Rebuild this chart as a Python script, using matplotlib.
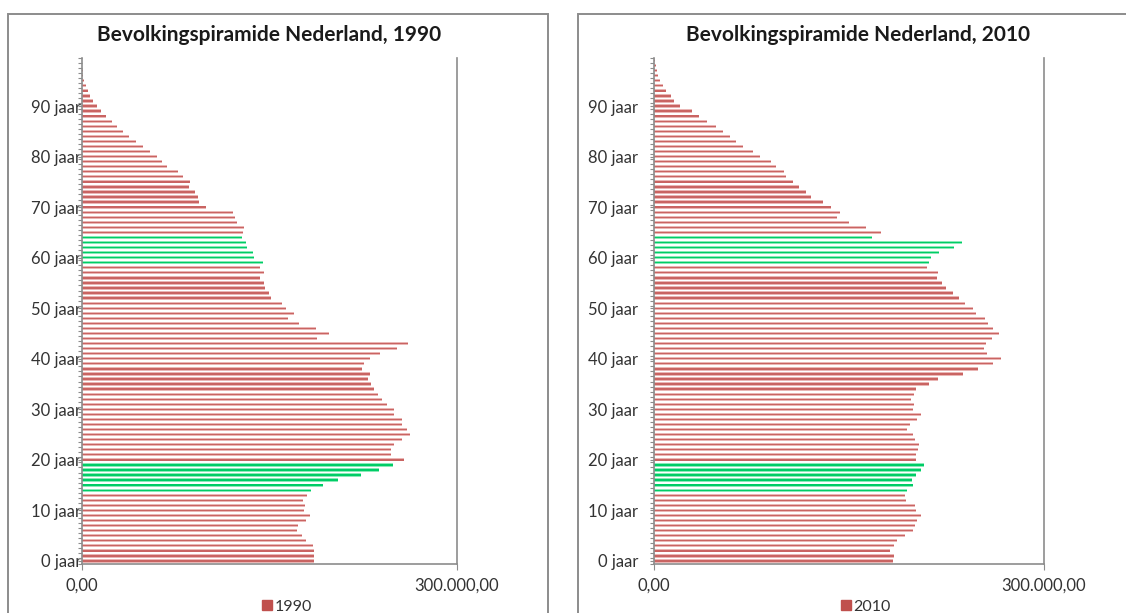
import numpy as np
import matplotlib
matplotlib.use("Agg")
import matplotlib.pyplot as plt
from matplotlib.patches import Rectangle, Patch
from matplotlib.ticker import FixedLocator

plt.rcParams['font.family'] = ['Lato', 'DejaVu Sans']

# leeftijden 0 t/m 99 jaar
leeftijd = np.arange(100)

bev_1990 = [186300, 186300, 186300, 184900, 179300, 176100, 172100, 173500, 179300, 182800,
            177700, 178800, 176900, 180700, 183300, 193500, 204900, 223300, 238000, 248900,
            258300, 247300, 247300, 250300, 256100, 262800, 260400, 256700, 256700, 250300,
            250300, 244000, 240700, 237500, 233700, 231900, 228900, 230500, 224100, 226000,
            230500, 239100, 252400, 260900, 188400, 198000, 187600, 173700, 165500, 170000,
            163600, 160700, 151600, 150300, 147100, 145700, 143100, 146300, 142800, 144900,
            138300, 137500, 132100, 131300, 128700, 129000, 130000, 124100, 122800, 121500,
            99300, 94000, 93500, 91100, 86000, 86800, 81500, 76900, 68100, 64100,
            60400, 54500, 49500, 43900, 38300, 33500, 28100, 24100, 19600, 15300,
            12100, 9500, 7100, 4900, 3300, 2000, 1500, 1000, 600, 350]

bev_2010 = [184100, 184600, 181500, 184600, 186700, 193300, 199500, 200500, 202100, 205600,
            201300, 200500, 194100, 192800, 194900, 199200, 198500, 201300, 205100, 207700,
            201300, 201300, 203100, 203900, 200500, 199200, 194900, 196700, 202600, 205100,
            199200, 200000, 197400, 199800, 201800, 211500, 218500, 237700, 249200, 260800,
            267200, 256400, 253900, 255700, 260300, 265400, 260800, 256900, 254400, 248000,
            245400, 239000, 234600, 230000, 224900, 221800, 218000, 218500, 210300, 211500,
            212800, 219000, 230800, 236700, 168000, 174400, 163400, 150000, 141100, 142800,
            135900, 130000, 120500, 116700, 111600, 107200, 101300, 100000, 93600, 89800,
            81500, 76200, 68700, 63300, 58200, 53100, 48000, 40800, 34600, 29500,
            20300, 15400, 12800, 9500, 6900, 4900, 3100, 2300, 1500, 1100]

# gemarkeerde leeftijdsgroepen (groen)
groen_1990 = list(range(14, 20)) + list(range(59, 65))
groen_2010 = list(range(14, 20)) + list(range(59, 65))

jaren = ["1990", "2010"]
titels = ["Bevolkingspiramide Nederland, 1990", "Bevolkingspiramide Nederland, 2010"]
tick_leeftijd = list(range(0, 100, 10))
tick_labels = [f"{a} jaar" for a in tick_leeftijd]
x_ticks = [0, 300000]
x_labels = ["0,00", "300.000,00"]

W, H = 1126, 613
fig = plt.figure(figsize=(W / 100, H / 100), dpi=100)

# kaderranden zoals in Excel
for x0, x1 in [(8, 548), (578, 1140)]:
    fig.patches.append(Rectangle((x0 / W, -0.2), (x1 - x0) / W, 1.2 - 14 / H,
                                 transform=fig.transFigure, fill=False,
                                 edgecolor='#8c8c8c', linewidth=1.4))

assen = [(81.5, 456.5, -2.7, 269, 287), (654, 1044, 8.5, 858, 866)]
data = [bev_1990, bev_2010]
groen = [groen_1990, groen_2010]

for i, (xl, xr, pad, tx, lx) in enumerate(assen):
    ax = fig.add_axes([xl / W, (H - 563.5) / H, (xr - xl) / W, 505.5 / H])
    waarden = np.array(data[i])
    licht = ['#8aeab8' if a in groen[i] else '#eab6b5' for a in leeftijd]
    donker = ['#00cc66' if a in groen[i] else '#c96462' for a in leeftijd]
    ax.barh(leeftijd, waarden, height=0.64, color=licht, linewidth=0)
    ax.barh(leeftijd, waarden, height=0.26, color=donker, linewidth=0)

    ax.set_xlim(0, 300000)
    ax.set_ylim(-0.5, 99.5)
    ax.set_xticks(x_ticks)
    ax.set_xticklabels(x_labels, fontsize=12, color='#333333')
    ax.set_yticks(tick_leeftijd)
    ax.set_yticklabels(tick_labels, fontsize=12, color='#333333')
    ax.yaxis.set_minor_locator(FixedLocator(np.arange(-0.5, 100, 1)))
    ax.tick_params(axis='y', which='both', length=3, width=0.8, color='#8c8c8c', pad=pad)
    ax.tick_params(axis='x', length=4, width=0.8, color='#8c8c8c', pad=6)
    for s in ['left', 'bottom', 'right']:
        ax.spines[s].set_color('#8c8c8c')
        ax.spines[s].set_linewidth(1.2)
    ax.spines['top'].set_visible(False)

    fig.text(tx / W, 1 - 35 / H, titels[i], ha='center', va='center',
             fontsize=15, fontweight='bold', color='#1a1a1a')
    ax.legend(handles=[Patch(color='#c0504d', label=jaren[i])], loc='center',
              bbox_to_anchor=(lx / W, 1 - 607 / H), bbox_transform=fig.transFigure,
              frameon=False, fontsize=11.5, handlelength=0.6, handleheight=0.6,
              handletextpad=0.2, labelcolor='#333333')

fig.savefig("out.png", dpi=100)
